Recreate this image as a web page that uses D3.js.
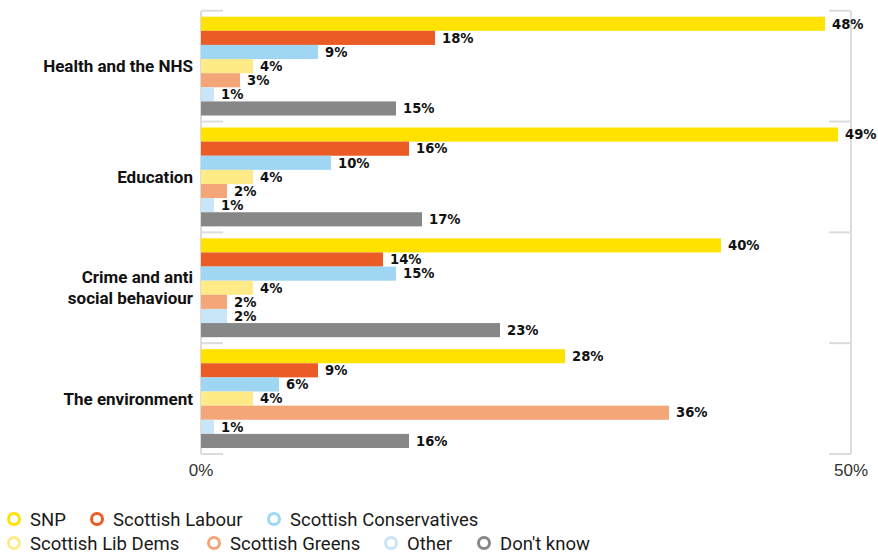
<!DOCTYPE html>
<html>
<head>
<meta charset="utf-8">
<script src="https://cdn.jsdelivr.net/npm/d3@7"></script>
<style>
  body { margin: 0; background: #fff; }
  svg { display: block; font-family: Roboto, "Liberation Sans", sans-serif; }
</style>
</head>
<body>
<svg id="svg" width="878" height="554"></svg>
<script>
// issues (rows) and parties (series)
var issues = ["Health and the NHS", "Education", "Crime and anti social behaviour", "The environment"];
var issueLines = [["Health and the NHS"], ["Education"], ["Crime and anti", "social behaviour"], ["The environment"]];
var parties = ["SNP", "Scottish Labour", "Scottish Conservatives", "Scottish Lib Dems", "Scottish Greens", "Other", "Don't know"];
var partyColors = ["#ffe200", "#eb5b25", "#9fd6f3", "#feeb88", "#f4a679", "#c9e6f8", "#878787"];

var snp        = [48, 49, 40, 28];
var labour     = [18, 16, 14, 9];
var tories     = [9, 10, 15, 6];
var libdems    = [4, 4, 4, 4];
var greens     = [3, 2, 2, 36];
var other      = [1, 1, 2, 1];
var dontknow   = [15, 17, 23, 16];
var series = [snp, labour, tories, libdems, greens, other, dontknow];

var xTicks = [0, 50];

var svg = d3.select("#svg");

var x = d3.scaleLinear().domain([0, 50]).range([201, 851]);

var y = d3.scaleBand()
    .domain(issues)
    .range([10.7, 454])
    .paddingInner(0.108)
    .paddingOuter(0.054);

var yInner = d3.scaleBand()
    .domain(parties)
    .range([0, y.bandwidth()]);

// grid frame: vertical lines at 0% and 50%, short inward ticks between groups
var grid = svg.append("g").attr("stroke", "#dcdcdc").attr("stroke-width", 2).attr("fill", "none");
var edges = [y.range()[0]];
issues.forEach(function(d) { edges.push(y(d) + y.bandwidth() + y.step() * y.paddingInner() / 2); });
edges[edges.length - 1] = y.range()[1];
grid.append("line").attr("x1", x(0)).attr("x2", x(0)).attr("y1", edges[0]).attr("y2", edges[4]);
grid.append("line").attr("x1", x(50)).attr("x2", x(50)).attr("y1", edges[0]).attr("y2", edges[4]);
edges.forEach(function(e) {
  grid.append("line").attr("x1", x(0)).attr("x2", x(0) + 22).attr("y1", e).attr("y2", e);
  grid.append("line").attr("x1", x(50) - 22).attr("x2", x(50)).attr("y1", e).attr("y2", e);
});

// bars
issues.forEach(function(issue, i) {
  var g = svg.append("g").attr("transform", "translate(0," + y(issue) + ")");
  parties.forEach(function(p, j) {
    var v = series[j][i];
    g.append("rect")
      .attr("x", x(0))
      .attr("y", yInner(p))
      .attr("width", x(v) - x(0))
      .attr("height", yInner.bandwidth())
      .attr("fill", partyColors[j]);
    g.append("text")
      .attr("x", x(v) + 7)
      .attr("y", yInner(p) + yInner.bandwidth() / 2)
      .attr("dy", "0.36em")
      .attr("font-family", "'DejaVu Sans', sans-serif")
      .attr("font-size", 13.2)
      .attr("font-weight", "bold")
      .attr("fill", "#111")
      .text(v + "%");
  });
  // category label
  var lines = issueLines[i];
  var cy = y(issue) + y.bandwidth() / 2;
  lines.forEach(function(l, k) {
    svg.append("text")
      .attr("x", 193)
      .attr("y", cy + (k - (lines.length - 1) / 2) * 21)
      .attr("dy", "0.36em")
      .attr("text-anchor", "end")
      .attr("font-size", 17)
      .attr("font-weight", "bold")
      .attr("fill", "#111")
      .text(l);
  });
});

// x axis labels
svg.append("g").selectAll("text").data(xTicks).join("text")
  .attr("x", function(d) { return x(d); })
  .attr("y", 470)
  .attr("dy", "0.36em")
  .attr("text-anchor", "middle")
  .attr("font-family", "'Liberation Sans', sans-serif")
  .attr("font-size", 17)
  .attr("fill", "#333")
  .text(function(d) { return d + "%"; });

// legend
var legendPos = [[14, 519], [97, 519], [274, 519], [14, 543], [214, 543], [391, 543], [484, 543]];
parties.forEach(function(p, j) {
  var lg = svg.append("g").attr("transform", "translate(" + legendPos[j][0] + "," + legendPos[j][1] + ")");
  lg.append("circle").attr("r", 5.5).attr("fill", "#fff").attr("stroke", partyColors[j]).attr("stroke-width", 3);
  lg.append("text").attr("x", 16).attr("dy", "0.36em").attr("font-size", 18.5).attr("fill", "#1a1a1a").text(p);
});
</script>
</body>
</html>
